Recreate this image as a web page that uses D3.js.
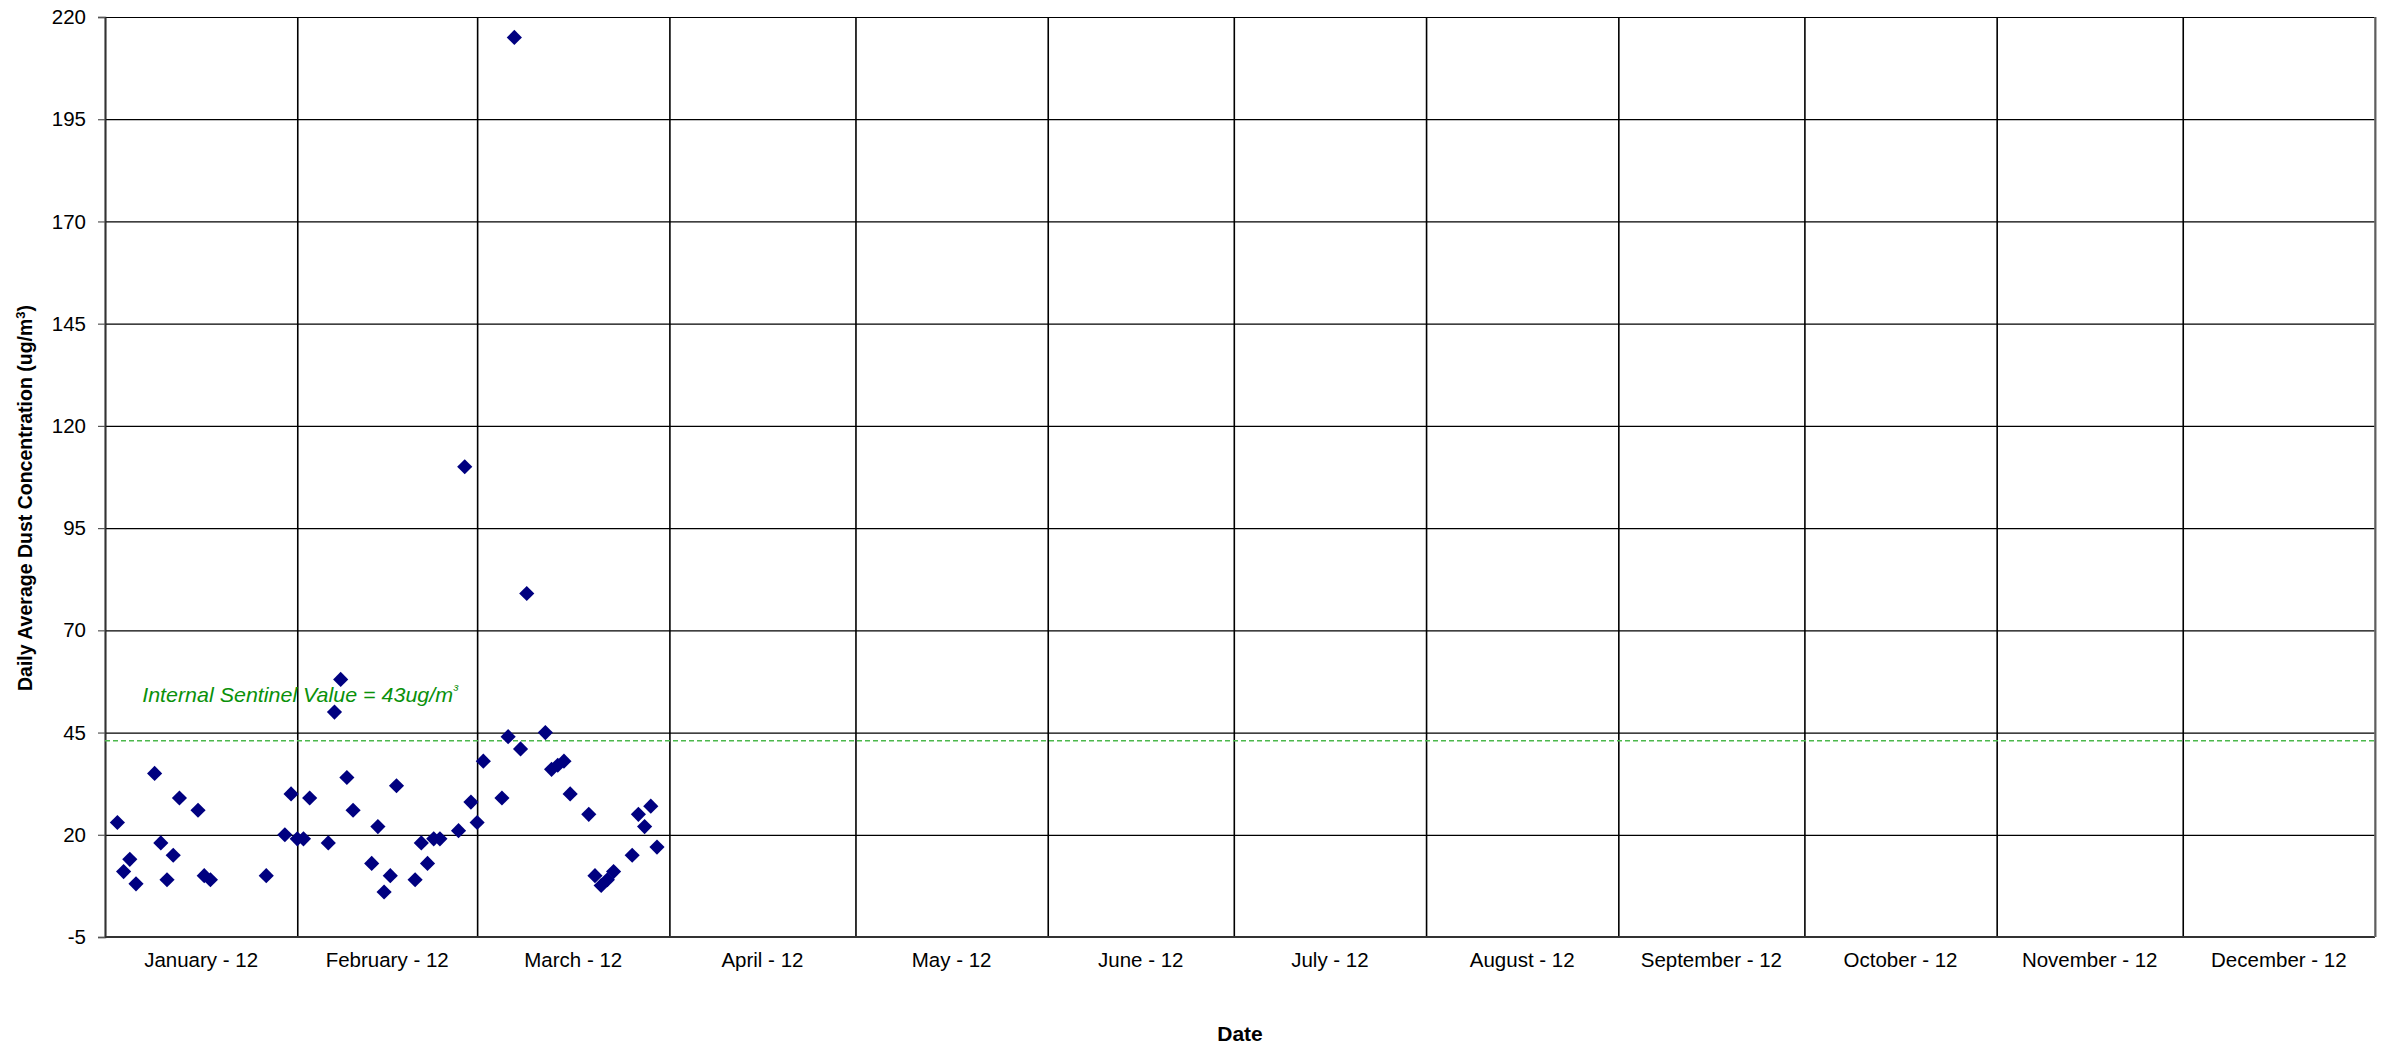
<!DOCTYPE html>
<html>
<head>
<meta charset="utf-8">
<script src="https://cdn.jsdelivr.net/npm/d3@7"></script>
<style>
  body { margin: 0; background: #fff; }
  text { font-family: Arial, "Liberation Sans", sans-serif; }
</style>
</head>
<body>
<script>
// Daily average dust readings, Jan - Mar 2012
const dates = [
  "2012-01-03", "2012-01-04", "2012-01-05", "2012-01-06", "2012-01-09", "2012-01-10",
  "2012-01-11", "2012-01-12", "2012-01-13", "2012-01-16", "2012-01-17", "2012-01-18",
  "2012-01-27", "2012-01-30", "2012-01-31", "2012-02-01", "2012-02-02", "2012-02-03",
  "2012-02-06", "2012-02-07", "2012-02-08", "2012-02-09", "2012-02-10", "2012-02-13",
  "2012-02-14", "2012-02-15", "2012-02-16", "2012-02-17", "2012-02-20", "2012-02-21",
  "2012-02-22", "2012-02-23", "2012-02-24", "2012-02-27", "2012-02-28", "2012-02-29",
  "2012-03-01", "2012-03-02", "2012-03-05", "2012-03-06", "2012-03-07", "2012-03-08",
  "2012-03-09", "2012-03-12", "2012-03-13", "2012-03-14", "2012-03-15", "2012-03-16",
  "2012-03-19", "2012-03-20", "2012-03-21", "2012-03-22", "2012-03-23", "2012-03-26",
  "2012-03-27", "2012-03-28", "2012-03-29", "2012-03-30"
];
const dust = [
  23, 11, 14, 8, 35, 18,
  9, 15, 29, 26, 10, 9,
  10, 20, 30, 19, 19, 29,
  18, 50, 58, 34, 26, 13,
  22, 6, 10, 32, 9, 18,
  13, 19, 19, 21, 110, 28,
  23, 38, 29, 44, 215, 41,
  79, 45, 36, 37, 38, 30,
  25, 10, 7.6, 9, 11, 15,
  25, 22, 27, 17
];
const monthLabels = [
  "January - 12", "February - 12", "March - 12", "April - 12", "May - 12", "June - 12",
  "July - 12", "August - 12", "September - 12", "October - 12", "November - 12", "December - 12"
];
const yTicks = [-5, 20, 45, 70, 95, 120, 145, 170, 195, 220];
const sentinel = 43;
const sentinelLabel = "Internal Sentinel Value = 43ug/m\u00B3";

const margin = { top: 17, right: 12, bottom: 110, left: 105 };
const width = 2387 - margin.left - margin.right;
const height = 1047 - margin.top - margin.bottom;

const parseDate = d3.timeParse("%Y-%m-%d");
const points = dates.map((d, i) => ({ date: parseDate(d), value: dust[i] }));

const start = new Date(2012, 0, 1);
const end = new Date(2013, 0, 1);
const monthStarts = d3.timeMonth.range(start, new Date(2013, 0, 2));

const svg = d3.select("body")
  .append("svg")
  .attr("width", width + margin.left + margin.right)
  .attr("height", height + margin.top + margin.bottom);

const g = svg.append("g")
  .attr("transform", "translate(" + margin.left + "," + margin.top + ")");

// Scales
const xScale = d3.scaleTime().domain([start, end]).range([0, width]);
const yScale = d3.scaleLinear().domain([-5, 220]).range([height, 0]);

// Horizontal gridlines
g.append("g")
  .attr("class", "y grid")
  .call(d3.axisLeft(yScale).tickValues(yTicks).tickSize(-width).tickFormat(""))
  .call(s => s.select(".domain").remove())
  .call(s => s.selectAll("line").attr("stroke", "#000").attr("stroke-width", 1.2));

// Vertical month gridlines
g.append("g")
  .attr("class", "x grid")
  .attr("transform", "translate(0," + height + ")")
  .call(d3.axisBottom(xScale).tickValues(monthStarts).tickSize(-height).tickFormat(""))
  .call(s => s.select(".domain").remove())
  .call(s => s.selectAll("line").attr("stroke", "#000").attr("stroke-width", 1.6));

// Y axis with labels (plain hyphen for negative numbers)
g.append("g")
  .attr("class", "y axis")
  .call(d3.axisLeft(yScale).tickValues(yTicks).tickSize(7).tickPadding(12).tickFormat(d => String(d)))
  .call(s => s.select(".domain").attr("stroke", "#333").attr("stroke-width", 1.6))
  .call(s => s.selectAll("line").attr("stroke", "#555").attr("stroke-width", 1.2))
  .call(s => s.selectAll("text").attr("font-size", 20.5).attr("fill", "#000")
    .attr("font-family", "Arial, 'Liberation Sans', sans-serif"));

// Bottom axis line
g.append("line")
  .attr("x1", 0).attr("x2", width)
  .attr("y1", height).attr("y2", height)
  .attr("stroke", "#333").attr("stroke-width", 2);

// Right frame
g.append("line")
  .attr("x1", width).attr("x2", width)
  .attr("y1", 0).attr("y2", height)
  .attr("stroke", "#777").attr("stroke-width", 1.6);

// Month labels centered in each month
g.selectAll(".month-label")
  .data(monthLabels)
  .enter()
  .append("text")
  .attr("class", "month-label")
  .attr("x", (d, i) => (xScale(monthStarts[i]) + xScale(monthStarts[i + 1])) / 2)
  .attr("y", height + 30)
  .attr("text-anchor", "middle")
  .attr("font-size", 20.5)
  .attr("fill", "#000")
  .text(d => d);

// Sentinel line
g.append("line")
  .attr("x1", 0).attr("x2", width)
  .attr("y1", yScale(sentinel)).attr("y2", yScale(sentinel))
  .attr("stroke", "#4cb84c")
  .attr("stroke-width", 1.5)
  .attr("stroke-dasharray", "5,3");

const sLabel = g.append("text")
  .attr("x", xScale(new Date(2012, 0, 7)))
  .attr("y", yScale(52.5))
  .attr("font-size", 21)
  .attr("font-style", "italic")
  .attr("fill", "#0a910a")
  .attr("textLength", 316)
  .attr("lengthAdjust", "spacingAndGlyphs");
sLabel.append("tspan").text(sentinelLabel.slice(0, -1));
sLabel.append("tspan").attr("font-size", 15).attr("dy", -7).text(sentinelLabel.slice(-1));

// Diamond markers
const diamond = {
  draw(ctx, size) {
    const r = Math.sqrt(size / 2);
    ctx.moveTo(0, -r);
    ctx.lineTo(r, 0);
    ctx.lineTo(0, r);
    ctx.lineTo(-r, 0);
    ctx.closePath();
  }
};

g.selectAll(".point")
  .data(points)
  .enter()
  .append("path")
  .attr("class", "point")
  .attr("d", d3.symbol().type(diamond).size(115))
  .attr("transform", d => "translate(" + xScale(d.date) + "," + yScale(d.value) + ")")
  .attr("fill", "#000080");

// Axis titles
svg.append("text")
  .attr("x", margin.left + width / 2)
  .attr("y", 1041)
  .attr("text-anchor", "middle")
  .attr("font-size", 21)
  .attr("font-weight", "bold")
  .attr("fill", "#000")
  .text("Date");

const yTitle = svg.append("text")
  .attr("transform", "translate(32," + 498 + ") rotate(-90)")
  .attr("text-anchor", "middle")
  .attr("font-size", 19.5)
  .attr("font-weight", "bold")
  .attr("fill", "#000");
yTitle.append("tspan").text("Daily Average Dust Concentration (ug/m");
yTitle.append("tspan").attr("font-size", 13).attr("dy", -7).text("3");
yTitle.append("tspan").attr("dy", 7).text(")");
</script>
</body>
</html>
